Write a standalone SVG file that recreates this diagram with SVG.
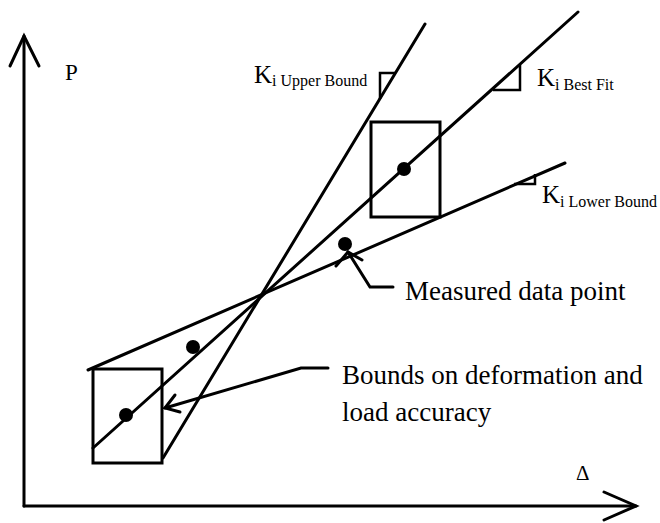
<svg xmlns="http://www.w3.org/2000/svg" width="660" height="523" viewBox="0 0 660 523">
<style>
.ln{stroke:#000;stroke-width:3;fill:none;stroke-linecap:round;stroke-linejoin:miter}
.thin{stroke:#000;stroke-width:2.5;fill:none}
.t{font-family:"Liberation Serif","Times New Roman",serif;fill:#000}
.big{font-size:25px}
.sub{font-size:16px}
.lab{font-size:27px}
</style>
<rect width="660" height="523" fill="#fff"/>
<g id="axes">
<polyline class="ln" points="24,506 24,36"/>
<polyline class="ln" points="10,66 24,36 39,66"/>
<polyline class="ln" points="24,506 636,506"/>
<polyline class="ln" points="604,492 636,506 604,520"/>
<text class="t" x="65" y="80" font-size="23">P</text>
<text class="t" x="576" y="480" font-size="21">Δ</text>
</g>
<g id="lines">
<line class="ln" x1="163" y1="458" x2="425" y2="24"/>
<line class="ln" x1="93" y1="448" x2="578" y2="12"/>
<line class="ln" x1="88" y1="370" x2="565" y2="163"/>
</g>
<g id="box-low">
<rect class="ln" x="93" y="369" width="69" height="94"/>
<circle cx="126" cy="415" r="7"/>
</g>
<g id="box-high">
<rect class="ln" x="371" y="122" width="69" height="95"/>
<circle cx="404" cy="169" r="7"/>
</g>
<g id="points">
<circle cx="193" cy="347" r="7"/>
<circle cx="345" cy="244" r="7"/>
</g>
<g id="triangles">
<polyline class="thin" points="380,99 380,73 396,73"/>
<polyline class="thin" points="493,90 520,90 520,65"/>
<polyline class="thin" points="514,184 535,184 535,174"/>
</g>
<g id="labels">
<text class="t" x="254" y="83"><tspan class="big">K</tspan><tspan class="sub" dy="3">i Upper Bound</tspan></text>
<text class="t" x="537" y="86"><tspan class="big">K</tspan><tspan class="sub" dy="4">i Best Fit</tspan></text>
<text class="t" x="542" y="203"><tspan class="big">K</tspan><tspan class="sub" dy="4">i Lower Bound</tspan></text>
<text class="t lab" x="405" y="300">Measured data point</text>
<text class="t lab" x="342" y="384">Bounds on deformation and</text>
<text class="t lab" x="342" y="421">load accuracy</text>
</g>
<g id="connectors">
<polyline class="ln" points="393,287 370,287 348,252"/>
<polyline class="ln" points="336,266 348,252 362,260"/>
<polyline class="ln" points="328,368 301,368 165,408"/>
<polyline class="ln" points="175,395 165,408 180,412"/>
</g>
</svg>
